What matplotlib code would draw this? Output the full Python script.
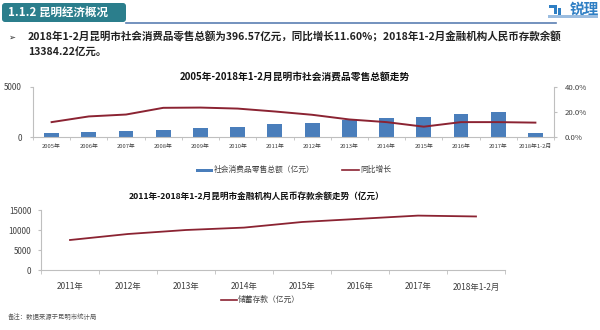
import matplotlib
matplotlib.use('Agg')
import matplotlib.pyplot as plt
from matplotlib.patches import FancyBboxPatch, Rectangle
import numpy as np

plt.rcParams['font.family'] = ['Noto Sans CJK SC', 'DejaVu Sans']

# retail sales data (亿元) and yoy growth (%)
retail_years = ['2005年', '2006年', '2007年', '2008年', '2009年', '2010年', '2011年',
                '2012年', '2013年', '2014年', '2015年', '2016年', '2017年', '2018年1-2月']
retail_total = [430, 500, 590, 720, 890, 1050, 1280, 1450, 1710, 1880, 2040, 2270, 2540, 396.57]
retail_growth = [12.0, 16.5, 18.0, 23.3, 23.5, 22.7, 20.4, 17.8, 14.1, 12.0, 8.4, 12.0, 12.0, 11.6]

# deposit data (亿元)
deposit_years = ['2011年', '2012年', '2013年', '2014年', '2015年', '2016年', '2017年', '2018年1-2月']
deposit_total = [7500, 9000, 10000, 10600, 12000, 12800, 13600, 13384.22]

BLUE = '#4a7ebb'
RED = '#8b2332'
GRAY = '#bfbfbf'
TXT = '#404040'

W, H = 600, 330
fig = plt.figure(figsize=(6, 3.3), dpi=100)

def px_axes(x0, y0, x1, y1):
    # pixel box (top-left origin) -> axes
    return fig.add_axes([x0 / W, 1 - y1 / H, (x1 - x0) / W, (y1 - y0) / H])

# header bar
hdr = fig.add_axes([0, 0, 1, 1], zorder=-1)
hdr.set_xlim(0, W)
hdr.set_ylim(H, 0)
hdr.axis('off')
hdr.add_patch(FancyBboxPatch((2, 3), 124, 19, boxstyle='round,pad=0,rounding_size=3',
                             fc='#2b7e8c', ec='none'))
hdr.plot([126, 556], [22.5, 22.5], color='#5b7fb3', lw=1.2)
hdr.text(8, 12.5, '1.1.2 昆明经济概况', color='white', fontsize=8.3, fontweight='bold',
         va='center', ha='left')
# logo
hdr.add_patch(Rectangle((548, 15), 50, 2.5, fc='#9bbde0', ec='none'))
hdr.add_patch(Rectangle((549, 5), 8, 2.5, fc='#2f7fc4', ec='none'))
hdr.add_patch(Rectangle((554, 5), 2.5, 9, fc='#2f7fc4', ec='none'))
hdr.add_patch(Rectangle((558, 8), 2.5, 7, fc='#2f7fc4', ec='none'))
hdr.text(599, 8.5, '锐理', color='#2f7fc4', fontsize=10.5, va='center', ha='right', fontweight='bold')

# bullet text
hdr.text(8, 37, '➢', fontsize=6, va='center', ha='left', color='#222222', family=['DejaVu Sans'])
hdr.text(28, 37, '2018年1-2月昆明市社会消费品零售总额为396.57亿元，同比增长11.60%；2018年1-2月金融机构人民币存款余额',
         fontsize=7.6, fontweight='bold', va='center', ha='left', color='#222222')
hdr.text(28, 53, '13384.22亿元。', fontsize=7.6, fontweight='bold', va='center', ha='left', color='#222222')

# chart 1 titles / legend
hdr.text(295, 77, '2005年-2018年1-2月昆明市社会消费品零售总额走势', fontsize=7.0,
         fontweight='bold', ha='center', va='center', color='#111111')
hdr.add_patch(Rectangle((196, 168.5), 17, 3, fc=BLUE, ec='none'))
hdr.text(214, 170, '社会消费品零售总额（亿元）', fontsize=5.6, ha='left', va='center', color=TXT)
hdr.plot([342, 359], [170, 170], color=RED, lw=1.2)
hdr.text(360, 170, '同比增长', fontsize=5.6, ha='left', va='center', color=TXT)

# chart 2 title / legend / footnote
hdr.text(257, 196, '2011年-2018年1-2月昆明市金融机构人民币存款余额走势（亿元）', fontsize=6.2,
         fontweight='bold', ha='center', va='center', color='#111111')
hdr.plot([221, 237], [299.5, 299.5], color=RED, lw=1.2)
hdr.text(238, 300, '储蓄存款（亿元）', fontsize=5.6, ha='left', va='center', color=TXT)
hdr.text(8, 317, '备注：数据来源于昆明市统计局', fontsize=4.6, ha='left', va='center', color='#555555')

# chart 1
ax1 = px_axes(33, 86.7, 554, 137.3)
x1 = np.arange(len(retail_years))
ax1.bar(x1, retail_total, width=0.4, color=BLUE, zorder=2)
ax1.set_xlim(-0.5, len(retail_years) - 0.5)
ax1.set_ylim(0, 5000)
ax1.set_yticks([0, 5000])
ax1.set_xticks(x1)
ax1.set_xticklabels(retail_years, fontsize=4.2, color=TXT)
ax1.tick_params(axis='x', length=0, pad=5)
ax1.tick_params(axis='y', labelsize=5.8, colors=TXT, length=2, color=GRAY, pad=6)
for s in ['top', 'right']:
    ax1.spines[s].set_visible(False)
ax1.spines['left'].set_color(GRAY)
ax1.spines['bottom'].set_color(GRAY)
ax1.set_xticks(np.arange(-0.5, len(retail_years), 1), minor=True)
ax1.tick_params(axis='x', which='minor', length=2, color=GRAY)

ax1r = ax1.twinx()
ax1r.plot(x1, retail_growth, color=RED, lw=1.4, zorder=3)
ax1r.set_ylim(0, 40)
ax1r.set_yticks([0, 20, 40])
ax1r.set_yticklabels(['0.0%', '20.0%', '40.0%'])
ax1r.tick_params(axis='y', labelsize=5.6, colors=TXT, length=2, color=GRAY, pad=6)
for s in ['top', 'left', 'bottom']:
    ax1r.spines[s].set_visible(False)
ax1r.spines['right'].set_color(GRAY)

# chart 2
ax2 = px_axes(41, 210, 505, 270)
x2 = np.arange(len(deposit_years))
ax2.plot(x2, deposit_total, color=RED, lw=1.3)
ax2.set_xlim(-0.5, len(deposit_years) - 0.5)
ax2.set_ylim(0, 15000)
ax2.set_yticks([0, 5000, 10000, 15000])
ax2.set_xticks(x2)
ax2.set_xticklabels(deposit_years, fontsize=6, color=TXT)
ax2.tick_params(axis='x', length=0, pad=9)
ax2.tick_params(axis='y', labelsize=5.8, colors=TXT, length=2, color=GRAY, pad=5)
ax2.set_xticks(np.arange(-0.5, len(deposit_years), 1), minor=True)
ax2.tick_params(axis='x', which='minor', length=3, color=GRAY)
for s in ['top', 'right']:
    ax2.spines[s].set_visible(False)
ax2.spines['left'].set_color(GRAY)
ax2.spines['bottom'].set_color(GRAY)

fig.savefig('out.png', dpi=100)
